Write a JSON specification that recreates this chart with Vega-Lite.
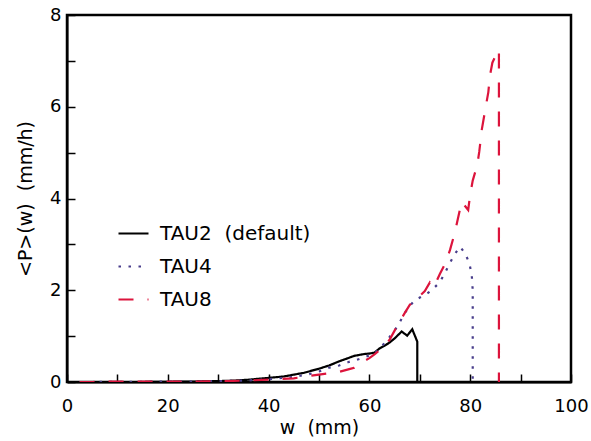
{
  "$schema": "https://vega.github.io/schema/vega-lite/v6.json",
  "width": 504,
  "height": 367,
  "autosize": {"type": "none"},
  "padding": {"left": 67, "top": 15, "right": 20, "bottom": 59},
  "background": "white",
  "config": {
    "font": "DejaVu Sans",
    "view": {"stroke": null},
    "axis": {
      "grid": false,
      "domain": true,
      "domainColor": "#000000",
      "domainWidth": 2,
      "tickColor": "#000000",
      "tickWidth": 1.5,
      "tickSize": -8,
      "labelColor": "#000000",
      "labelFont": "DejaVu Sans",
      "labelFontSize": 18,
      "titleFont": "DejaVu Sans",
      "titleFontSize": 19,
      "titleFontWeight": "normal",
      "titleColor": "#000000"
    },
    "legend": {
      "orient": "none",
      "legendX": 50,
      "legendY": 202,
      "symbolType": "stroke",
      "symbolSize": 900,
      "symbolStrokeWidth": 2.2,
      "labelFont": "DejaVu Sans",
      "labelFontSize": 20,
      "labelColor": "#000000",
      "labelOffset": 10,
      "labelLimit": 400,
      "padding": 0,
      "rowPadding": 6
    }
  },
  "data": {
    "values": [
      {"s": "TAU2 (default)", "i": 1, "w": 2.5, "p": 0},
      {"s": "TAU2 (default)", "i": 2, "w": 5, "p": 0},
      {"s": "TAU2 (default)", "i": 3, "w": 10, "p": 0},
      {"s": "TAU2 (default)", "i": 4, "w": 15, "p": 0},
      {"s": "TAU2 (default)", "i": 5, "w": 20, "p": 0.005},
      {"s": "TAU2 (default)", "i": 6, "w": 25, "p": 0.01},
      {"s": "TAU2 (default)", "i": 7, "w": 30, "p": 0.02},
      {"s": "TAU2 (default)", "i": 8, "w": 33, "p": 0.03},
      {"s": "TAU2 (default)", "i": 9, "w": 36, "p": 0.05},
      {"s": "TAU2 (default)", "i": 10, "w": 40, "p": 0.09},
      {"s": "TAU2 (default)", "i": 11, "w": 43, "p": 0.12},
      {"s": "TAU2 (default)", "i": 12, "w": 45, "p": 0.16},
      {"s": "TAU2 (default)", "i": 13, "w": 47, "p": 0.2},
      {"s": "TAU2 (default)", "i": 14, "w": 48, "p": 0.23},
      {"s": "TAU2 (default)", "i": 15, "w": 50, "p": 0.29},
      {"s": "TAU2 (default)", "i": 16, "w": 52, "p": 0.36},
      {"s": "TAU2 (default)", "i": 17, "w": 54, "p": 0.45},
      {"s": "TAU2 (default)", "i": 18, "w": 55, "p": 0.49},
      {"s": "TAU2 (default)", "i": 19, "w": 56, "p": 0.53},
      {"s": "TAU2 (default)", "i": 20, "w": 57, "p": 0.57},
      {"s": "TAU2 (default)", "i": 21, "w": 58, "p": 0.59},
      {"s": "TAU2 (default)", "i": 22, "w": 59, "p": 0.61},
      {"s": "TAU2 (default)", "i": 23, "w": 60, "p": 0.62},
      {"s": "TAU2 (default)", "i": 24, "w": 61, "p": 0.64},
      {"s": "TAU2 (default)", "i": 25, "w": 62, "p": 0.73},
      {"s": "TAU2 (default)", "i": 26, "w": 63, "p": 0.79},
      {"s": "TAU2 (default)", "i": 27, "w": 64, "p": 0.86},
      {"s": "TAU2 (default)", "i": 28, "w": 65, "p": 0.95},
      {"s": "TAU2 (default)", "i": 29, "w": 66.4, "p": 1.1},
      {"s": "TAU2 (default)", "i": 30, "w": 67.5, "p": 1.01},
      {"s": "TAU2 (default)", "i": 31, "w": 68.5, "p": 1.15},
      {"s": "TAU2 (default)", "i": 32, "w": 69.5, "p": 0.88},
      {"s": "TAU2 (default)", "i": 33, "w": 69.5, "p": 0},
      {"s": "TAU4", "i": 1, "w": 2.5, "p": 0},
      {"s": "TAU4", "i": 2, "w": 5, "p": 0},
      {"s": "TAU4", "i": 3, "w": 10, "p": 0.005},
      {"s": "TAU4", "i": 4, "w": 15, "p": 0.005},
      {"s": "TAU4", "i": 5, "w": 20, "p": 0.01},
      {"s": "TAU4", "i": 6, "w": 25, "p": 0.01},
      {"s": "TAU4", "i": 7, "w": 30, "p": 0.02},
      {"s": "TAU4", "i": 8, "w": 35, "p": 0.03},
      {"s": "TAU4", "i": 9, "w": 40, "p": 0.06},
      {"s": "TAU4", "i": 10, "w": 45, "p": 0.11},
      {"s": "TAU4", "i": 11, "w": 48, "p": 0.17},
      {"s": "TAU4", "i": 12, "w": 50, "p": 0.23},
      {"s": "TAU4", "i": 13, "w": 52, "p": 0.31},
      {"s": "TAU4", "i": 14, "w": 54, "p": 0.36},
      {"s": "TAU4", "i": 15, "w": 56, "p": 0.44},
      {"s": "TAU4", "i": 16, "w": 58, "p": 0.5},
      {"s": "TAU4", "i": 17, "w": 60, "p": 0.58},
      {"s": "TAU4", "i": 18, "w": 61, "p": 0.63},
      {"s": "TAU4", "i": 19, "w": 62, "p": 0.72},
      {"s": "TAU4", "i": 20, "w": 63, "p": 0.85},
      {"s": "TAU4", "i": 21, "w": 64, "p": 0.98},
      {"s": "TAU4", "i": 22, "w": 65, "p": 1.12},
      {"s": "TAU4", "i": 23, "w": 66, "p": 1.3},
      {"s": "TAU4", "i": 24, "w": 67, "p": 1.5},
      {"s": "TAU4", "i": 25, "w": 68, "p": 1.66},
      {"s": "TAU4", "i": 26, "w": 69, "p": 1.78},
      {"s": "TAU4", "i": 27, "w": 70, "p": 1.84},
      {"s": "TAU4", "i": 28, "w": 71, "p": 1.9},
      {"s": "TAU4", "i": 29, "w": 72, "p": 1.97},
      {"s": "TAU4", "i": 30, "w": 73, "p": 2.07},
      {"s": "TAU4", "i": 31, "w": 74, "p": 2.18},
      {"s": "TAU4", "i": 32, "w": 75, "p": 2.38},
      {"s": "TAU4", "i": 33, "w": 76, "p": 2.6},
      {"s": "TAU4", "i": 34, "w": 77, "p": 2.8},
      {"s": "TAU4", "i": 35, "w": 78, "p": 2.95},
      {"s": "TAU4", "i": 36, "w": 79, "p": 2.8},
      {"s": "TAU4", "i": 37, "w": 79.8, "p": 2.6},
      {"s": "TAU4", "i": 38, "w": 80.3, "p": 2.35},
      {"s": "TAU4", "i": 39, "w": 80.5, "p": 2.0},
      {"s": "TAU4", "i": 40, "w": 80.5, "p": 0},
      {"s": "TAU8", "i": 1, "w": 2.5, "p": 0},
      {"s": "TAU8", "i": 2, "w": 5, "p": 0},
      {"s": "TAU8", "i": 3, "w": 10, "p": 0.01},
      {"s": "TAU8", "i": 4, "w": 15, "p": 0.01},
      {"s": "TAU8", "i": 5, "w": 20, "p": 0.01},
      {"s": "TAU8", "i": 6, "w": 25, "p": 0.01},
      {"s": "TAU8", "i": 7, "w": 30, "p": 0.015},
      {"s": "TAU8", "i": 8, "w": 35, "p": 0.03},
      {"s": "TAU8", "i": 9, "w": 40, "p": 0.05},
      {"s": "TAU8", "i": 10, "w": 45, "p": 0.08},
      {"s": "TAU8", "i": 11, "w": 48, "p": 0.13},
      {"s": "TAU8", "i": 12, "w": 50, "p": 0.16},
      {"s": "TAU8", "i": 13, "w": 52, "p": 0.19},
      {"s": "TAU8", "i": 14, "w": 54, "p": 0.22},
      {"s": "TAU8", "i": 15, "w": 56, "p": 0.28},
      {"s": "TAU8", "i": 16, "w": 57, "p": 0.31},
      {"s": "TAU8", "i": 17, "w": 58, "p": 0.38},
      {"s": "TAU8", "i": 18, "w": 59, "p": 0.46},
      {"s": "TAU8", "i": 19, "w": 60, "p": 0.52},
      {"s": "TAU8", "i": 20, "w": 61, "p": 0.6},
      {"s": "TAU8", "i": 21, "w": 62, "p": 0.69},
      {"s": "TAU8", "i": 22, "w": 63, "p": 0.79},
      {"s": "TAU8", "i": 23, "w": 64, "p": 0.92},
      {"s": "TAU8", "i": 24, "w": 65, "p": 1.12},
      {"s": "TAU8", "i": 25, "w": 66, "p": 1.32},
      {"s": "TAU8", "i": 26, "w": 67, "p": 1.5},
      {"s": "TAU8", "i": 27, "w": 68, "p": 1.68},
      {"s": "TAU8", "i": 28, "w": 69, "p": 1.8},
      {"s": "TAU8", "i": 29, "w": 70, "p": 1.88},
      {"s": "TAU8", "i": 30, "w": 71, "p": 1.98},
      {"s": "TAU8", "i": 31, "w": 72, "p": 2.17},
      {"s": "TAU8", "i": 32, "w": 72.8, "p": 2.07},
      {"s": "TAU8", "i": 33, "w": 74, "p": 2.36},
      {"s": "TAU8", "i": 34, "w": 75, "p": 2.57},
      {"s": "TAU8", "i": 35, "w": 76, "p": 2.88},
      {"s": "TAU8", "i": 36, "w": 77, "p": 3.28},
      {"s": "TAU8", "i": 37, "w": 78.3, "p": 3.93},
      {"s": "TAU8", "i": 38, "w": 79.6, "p": 3.75},
      {"s": "TAU8", "i": 39, "w": 80.0, "p": 4.09},
      {"s": "TAU8", "i": 40, "w": 80.5, "p": 4.39},
      {"s": "TAU8", "i": 41, "w": 81.4, "p": 4.73},
      {"s": "TAU8", "i": 42, "w": 81.8, "p": 5.02},
      {"s": "TAU8", "i": 43, "w": 82.3, "p": 5.5},
      {"s": "TAU8", "i": 44, "w": 83.1, "p": 6.01},
      {"s": "TAU8", "i": 45, "w": 83.6, "p": 6.32},
      {"s": "TAU8", "i": 46, "w": 83.9, "p": 6.67},
      {"s": "TAU8", "i": 47, "w": 84.4, "p": 6.96},
      {"s": "TAU8", "i": 48, "w": 85.0, "p": 7.1},
      {"s": "TAU8", "i": 49, "w": 85.7, "p": 7.25},
      {"s": "TAU8", "i": 50, "w": 85.7, "p": 0}
    ]
  },
  "layer": [
    {
      "data": {"values": [{"x0": 0, "x1": 100, "y0": 0, "y1": 8}]},
      "mark": {"type": "rect", "filled": false, "stroke": "#000000", "strokeWidth": 2.5, "strokeOpacity": 1},
      "encoding": {
        "x": {"field": "x0", "type": "quantitative", "title": "w\u00a0\u00a0(mm)"},
        "x2": {"field": "x1"},
        "y": {"field": "y0", "type": "quantitative", "title": "<P>(w)\u00a0\u00a0(mm/h)"},
        "y2": {"field": "y1"}
      }
    },
    {
      "mark": {"type": "line", "strokeWidth": 2.2, "clip": true},
      "encoding": {
        "x": {
          "field": "w",
          "type": "quantitative",
          "title": "w\u00a0\u00a0(mm)",
          "scale": {"domain": [0, 100], "nice": false, "zero": false},
          "axis": {
            "orient": "bottom",
            "titlePadding": 3,
            "values": [0,5,10,15,20,25,30,35,40,45,50,55,60,65,70,75,80,85,90,95,100],
            "labelExpr": "datum.value % 20 === 0 ? format(datum.value, 'd') : ''",
            "labelPadding": 23,
            "labelFlush": false,
            "labelOverlap": false
          }
        },
        "y": {
          "field": "p",
          "type": "quantitative",
          "title": "<P>(w)\u00a0\u00a0(mm/h)",
          "scale": {"domain": [0, 8], "nice": false},
          "axis": {
            "orient": "left",
            "titlePadding": 14,
            "values": [0,0.5,1,1.5,2,2.5,3,3.5,4,4.5,5,5.5,6,6.5,7,7.5,8],
            "labelExpr": "datum.value % 2 === 0 ? format(datum.value, 'd') : ''",
            "labelPadding": 14,
            "labelFlush": false,
            "labelOverlap": false
          }
        },
        "order": {"field": "i", "type": "quantitative"},
        "color": {
          "field": "s",
          "type": "nominal",
          "title": null,
          "scale": {"domain": ["TAU2 (default)", "TAU4", "TAU8"], "range": ["#000000", "#483d8b", "#dc143c"]},
          "legend": {"labelExpr": "replace(datum.label, ' ', '\u00a0\u00a0')"}
        },
        "strokeDash": {
          "field": "s",
          "type": "nominal",
          "title": null,
          "scale": {"domain": ["TAU2 (default)", "TAU4", "TAU8"], "range": [[1, 0], [2.5, 7.5], [15, 14]]},
          "legend": {"labelExpr": "replace(datum.label, ' ', '\u00a0\u00a0')"}
        }
      }
    }
  ]
}
